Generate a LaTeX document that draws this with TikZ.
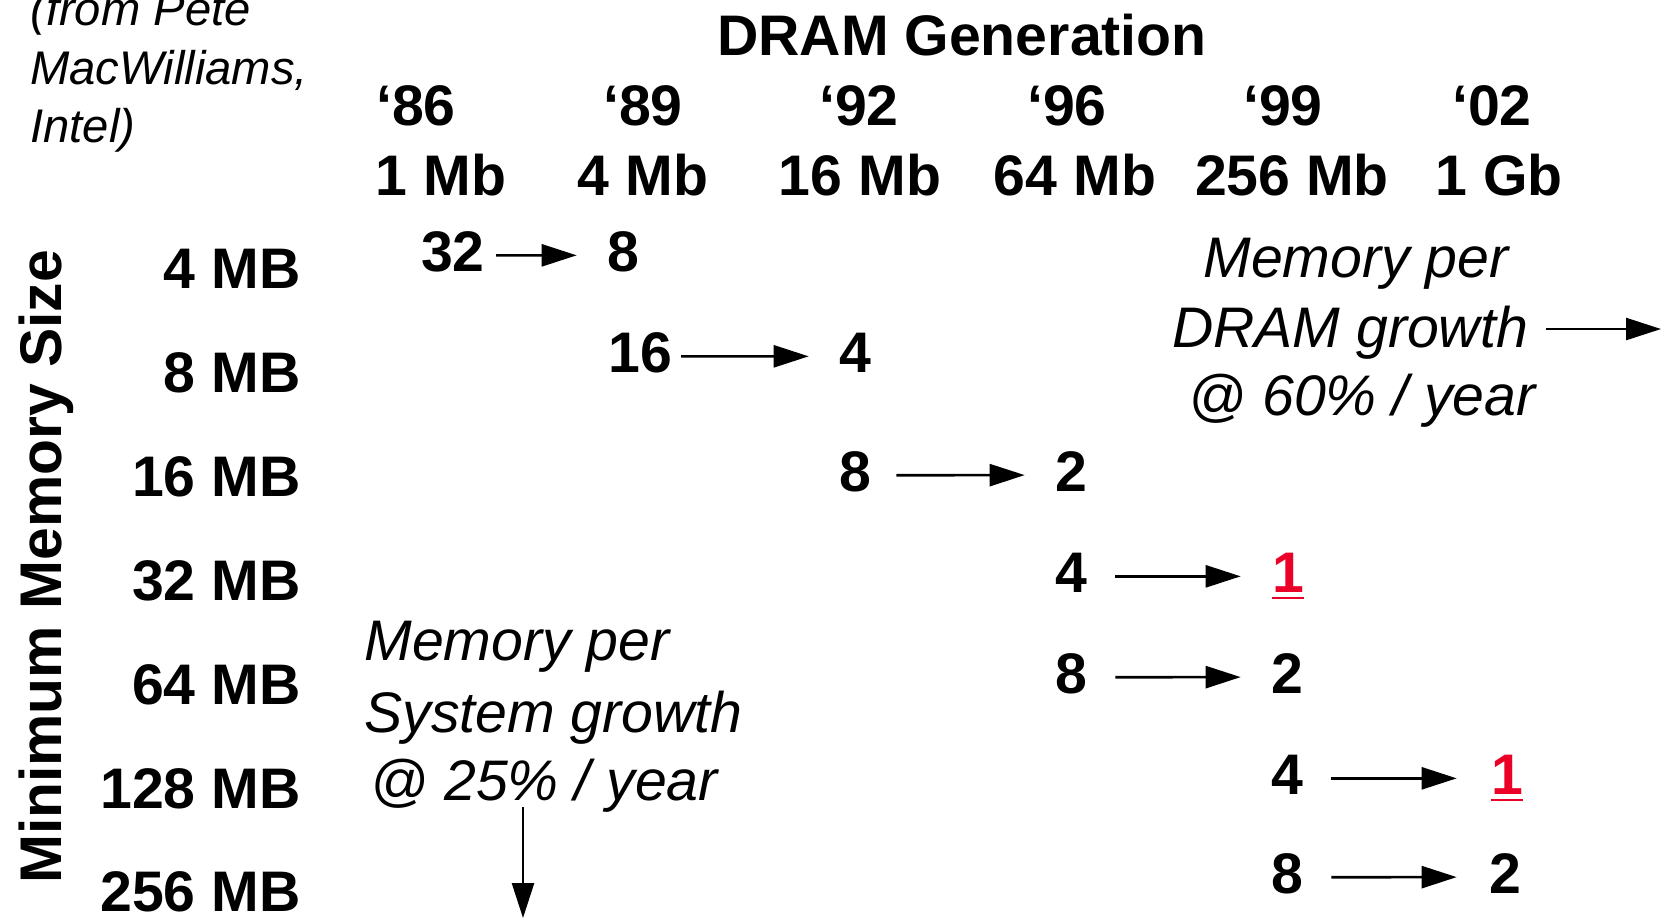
\documentclass[tikz,border=0pt]{standalone}
\usepackage{fontspec}
\setmainfont{Liberation Sans}
\usetikzlibrary{arrows.meta}
\definecolor{hot}{RGB}{235,0,40}
\begin{document}
\begin{tikzpicture}[x=0.5pt,y=-0.5pt,
  big/.style={font=\fontsize{28.6}{34}\selectfont\bfseries, inner sep=0pt, anchor=base},
  lab/.style={big, anchor=base east},
  num/.style={big},
  red/.style={big, text=hot},
  note/.style={font=\fontsize{28.6}{34}\selectfont\itshape, inner sep=0pt, anchor=base},
  credit/.style={font=\fontsize{23.6}{29}\selectfont\itshape, inner sep=0pt, anchor=base west},
  arr/.style={line width=1.3pt, -{Triangle[length=17.5pt,width=11pt]}},
  uline/.style={draw=hot, line width=1.1pt},
]
\useasboundingbox (0,0) rectangle (1664,918);

% credit
\node[credit] (c1) at (30,25) {(from Pete};
\node[credit] (c2) at (30,84) {MacWilliams,};
\node[credit] (c3) at (30,142) {Intel)};

% header
\node[big] (title) at (962,55) {DRAM Generation};
\node[big] (y86) at (416,125) {‘86};
\node[big] (y89) at (643,125) {‘89};
\node[big] (y92) at (859,125) {‘92};
\node[big] (y96) at (1067,125) {‘96};
\node[big] (y99) at (1283,125) {‘99};
\node[big] (y02) at (1492,125) {‘02};
\node[big] (g1) at (441,195) {1 Mb};
\node[big] (g2) at (643,195) {4 Mb};
\node[big] (g3) at (860,195) {16 Mb};
\node[big] (g4) at (1075,195) {64 Mb};
\node[big] (g5) at (1292,195) {256 Mb};
\node[big] (g6) at (1499,195) {1 Gb};

% y axis
\node[big, font=\fontsize{29.4}{34}\selectfont\bfseries, rotate=90] (ylab) at (61,567) {Minimum Memory Size};
\node[lab] (m1) at (301,288) {4 MB};
\node[lab] (m2) at (301,392) {8 MB};
\node[lab] (m3) at (301,496) {16 MB};
\node[lab] (m4) at (301,600) {32 MB};
\node[lab] (m5) at (301,704) {64 MB};
\node[lab] (m6) at (301,808) {128 MB};
\node[lab] (m7) at (301,911) {256 MB};

% numbers
\node[num] (a1) at (453,271) {32};
\node[num] (b1) at (623,271) {8};
\node[num] (a2) at (640,372) {16};
\node[num] (b2) at (855,372) {4};
\node[num] (a3) at (855,491) {8};
\node[num] (b3) at (1071,491) {2};
\node[num] (a4) at (1071,592) {4};
\node[red] (b4) at (1288,592) {1};
\node[num] (a5) at (1071,693) {8};
\node[num] (b5) at (1287,693) {2};
\node[num] (a6) at (1287,794) {4};
\node[red] (b6) at (1507,794) {1};
\node[num] (a7) at (1287,893) {8};
\node[num] (b7) at (1505,893) {2};

\draw[uline] ([yshift=-3pt]b4.base west) -- ([yshift=-3pt]b4.base east);
\draw[uline] ([yshift=-3pt]b6.base west) -- ([yshift=-3pt]b6.base east);

\draw[arr, shorten <=5.5pt, shorten >=15pt] ([yshift=-2pt]a1.east) -- ([yshift=-2pt]b1.west);
\draw[arr, shorten <=4.5pt, shorten >=15pt] ([yshift=-2pt]a2.east) -- ([yshift=-2pt]b2.west);
\draw[arr, shorten <=12.5pt, shorten >=15pt] ([yshift=-2pt]a3.east) -- ([yshift=-2pt]b3.west);
\draw[arr, shorten <=14pt, shorten >=15.5pt] ([yshift=-2pt]a4.east) -- ([yshift=-2pt]b4.west);
\draw[arr, shorten <=14pt, shorten >=15pt] ([yshift=-2pt]a5.east) -- ([yshift=-2pt]b5.west);
\draw[arr, shorten <=14pt, shorten >=17pt] ([yshift=-2pt]a6.east) -- ([yshift=-2pt]b6.west);
\draw[arr, shorten <=14pt, shorten >=16pt] ([yshift=-2pt]a7.east) -- ([yshift=-2pt]b7.west);

% DRAM growth note
\node[note] (d1) at (1356,277) {Memory per};
\node[note] (d2) at (1350,347) {DRAM growth};
\node[note] (d3) at (1362,415) {@ 60\% / year};
\coordinate (dend) at (1661,329);
\draw[arr, shorten <=9pt] (d2.east |- dend) -- (dend);

% System growth note
\node[note, anchor=base west] (s1) at (364,660) {Memory per};
\node[note, anchor=base west] (s2) at (364,732) {System growth};
\node[note, anchor=base west] (s3) at (370,800) {@ 25\% / year};
\coordinate (send) at (523,918);
\draw[arr, shorten <=3.5pt] (send |- s3.base) -- (send);
\end{tikzpicture}
\end{document}
